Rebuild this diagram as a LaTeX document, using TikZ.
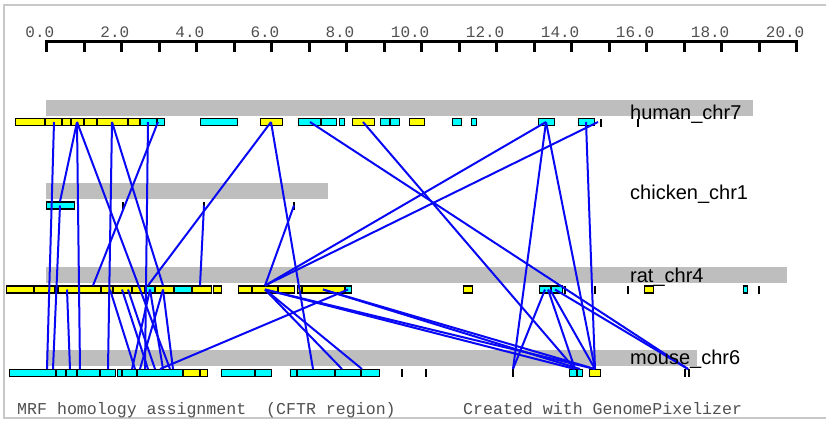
\documentclass[tikz,border=0pt]{standalone}
\usepackage{fontspec}
\setmainfont{Liberation Sans}
\setmonofont{Liberation Mono}
\usetikzlibrary{positioning}
\definecolor{geneyellow}{HTML}{FFFF00}
\definecolor{genecyan}{HTML}{00FFFF}
\definecolor{bargrey}{HTML}{BEBEBE}
\definecolor{framegrey}{HTML}{C8C8C8}
\definecolor{homblue}{HTML}{0808F5}
\definecolor{scalegrey}{HTML}{505050}

\begin{document}
\begin{tikzpicture}[x=1pt, y=-1pt,
    gene/.style={draw, line width=1.4pt, fill=#1, inner sep=0pt, minimum height=7pt},
    tickmark/.style={fill=black, inner sep=0pt, minimum width=2pt, minimum height=8pt},
    chrbar/.style={fill=bargrey, inner sep=0pt, minimum height=16pt, anchor=north west},
    chrlabel/.style={font=\fontsize{20}{20}\selectfont, anchor=base west, inner sep=0pt},
    scalelabel/.style={font=\ttfamily\fontsize{16}{16}\selectfont, text=scalegrey, anchor=base east, inner sep=0pt},
    note/.style={font=\ttfamily\fontsize{16.6}{16.6}\selectfont, text=scalegrey, anchor=base west, inner sep=0pt},
    hom/.style={homblue, line width=2pt}
]
\useasboundingbox (0,0) rectangle (826,421);

% Frame
\draw[framegrey, line width=2pt] (826,5) -- (4,5) -- (4,418) -- (826,418);

% Scale
\draw[line width=3pt] (45,41) -- (798,41);
\foreach \i in {0,...,20}
  \draw[line width=3pt] ({46.5+37.5*\i},41) -- ++(0,11);
\foreach \i in {0,2,...,20}
  \node[scalelabel] (scale\i) at ({54.5+37.5*\i},37) {\i.0};

% Chromosome bars
\node[chrbar, minimum width=707pt] (humanbar) at (46,100) {};
\node[chrbar, minimum width=282pt] (chickenbar) at (46,183) {};
\node[chrbar, minimum width=741pt] (ratbar) at (46,267) {};
\node[chrbar, minimum width=651pt] (mousebar) at (46,350) {};

% Human genes
\foreach \n/\a/\b/\c in {1/15/45/geneyellow, 2/45/62/geneyellow, 3/62/71/geneyellow,
    4/71/84/geneyellow, 5/84/97/geneyellow, 6/97/128/geneyellow, 7/128/140/geneyellow,
    8/140/157/genecyan, 9/157/165/genecyan, 10/200/238/genecyan, 11/260/283/geneyellow,
    12/298/321/genecyan, 13/321/337/genecyan, 14/339/345/genecyan, 15/352/375/geneyellow,
    16/380/390/genecyan, 17/390/400/genecyan, 18/409/425/geneyellow, 19/452/462/genecyan,
    20/471/477/genecyan, 21/538/555/genecyan, 22/578/595/genecyan}
  \node[gene=\c, minimum width={\b-\a-1.4}] (hg\n) at ({(\a+\b)/2},122) {};
\foreach \n/\a in {1/601, 2/638}
  \node[tickmark] (ht\n) at (\a,123) {};

% Chicken genes
\node[gene=genecyan, minimum width=27.6pt] (cg1) at (60.5,205.5) {};
\foreach \n/\a in {1/123, 2/204, 3/294}
  \node[tickmark] (ct\n) at (\a,205.5) {};

% Rat genes
\foreach \n/\a/\b/\c in {1/6/34/geneyellow, 2/34/55/geneyellow, 3/55/58/geneyellow,
    4/58/79/geneyellow, 5/79/101/geneyellow, 6/101/113/geneyellow, 7/113/132/geneyellow,
    8/132/145/geneyellow, 9/145/155/genecyan, 10/155/174/geneyellow, 11/174/192/genecyan,
    12/192/212/geneyellow, 13/213/222/geneyellow, 14/238/252/geneyellow, 15/252/278/geneyellow,
    16/278/295/geneyellow, 17/297/302/geneyellow, 18/302/345/geneyellow, 19/345/352/genecyan,
    20/463/473/geneyellow, 21/539/551/genecyan, 22/551/563/genecyan, 23/644/654/geneyellow,
    24/743/748/genecyan}
  \node[gene=\c, minimum width={\b-\a-1.4}] (rg\n) at ({(\a+\b)/2},289.5) {};
\foreach \n/\a in {1/565, 2/595, 3/628, 4/759}
  \node[tickmark] (rt\n) at (\a,289.5) {};

% Mouse genes
\foreach \n/\a/\b/\c in {1/9/56/genecyan, 2/56/66/genecyan, 3/66/77/genecyan,
    4/77/100/genecyan, 5/100/116/genecyan, 6/117/122/genecyan, 7/122/137/genecyan,
    8/137/183/genecyan, 9/183/200/geneyellow, 10/200/208/geneyellow, 11/221/255/genecyan,
    12/255/272/genecyan, 13/290/297/genecyan, 14/297/335/genecyan, 15/335/361/genecyan,
    16/361/380/genecyan, 17/569/577/genecyan, 18/577/583/genecyan, 19/589/601/geneyellow}
  \node[gene=\c, minimum width={\b-\a-1.4}] (mg\n) at ({(\a+\b)/2},373) {};
\foreach \n/\a in {1/402, 2/426, 3/513, 4/685, 5/689}
  \node[tickmark] (mt\n) at (\a,373) {};

% Homology loci
\foreach \x in {54, 77, 112, 148, 158, 271, 310, 363, 546, 586, 598}
  \coordinate (h\x) at (\x,122);
\foreach \x in {60, 204, 294}
  \coordinate (c\x) at (\x,205.5);
\foreach \x in {67, 93, 110, 122, 128, 148, 150, 163, 200, 265, 323, 348, 545, 548, 550, 555}
  \coordinate (r\x) at (\x,289.5);
\foreach \x in {47, 53, 70, 80, 108, 132, 135, 140, 145, 148, 155, 160, 163, 170, 173,
    313, 342, 362, 513, 575, 580, 595, 688}
  \coordinate (m\x) at (\x,373);

% Homology links
\foreach \a/\b in {h54/m47, h77/c60, h77/m80, h77/m170, h112/m108, h112/r163, h148/m145,
    h158/r93, h271/r148, h271/m313, h310/m688, h363/m575, h546/m513, h546/m595, h546/r265,
    h598/r265, h586/m595, c60/m53, c204/r200, c294/r265, r67/m70, r110/m135, r122/m148,
    r128/m155, r150/m132, r150/m163, r163/m140, r163/m173, r265/m342, r265/m362,
    r265/m575, r265/m595, r323/m580, r323/m595, r348/m160, r545/m513, r548/m575,
    r550/m595, r555/m688}
  \draw[hom] (\a) -- ([yshift=4pt]\b);

% Chromosome labels
\node[chrlabel] (humanlabel) at (630,119) {human\_chr7};
\node[chrlabel] (chickenlabel) at (630,199) {chicken\_chr1};
\node[chrlabel] (ratlabel) at (630,282) {rat\_chr4};
\node[chrlabel] (mouselabel) at (630,364) {mouse\_chr6};

% Footer
\node[note] (footleft) at (17,414) {MRF homology assignment~~(CFTR region)};
\node[note] (footright) at (463,414) {Created with GenomePixelizer};
\end{tikzpicture}
\end{document}
